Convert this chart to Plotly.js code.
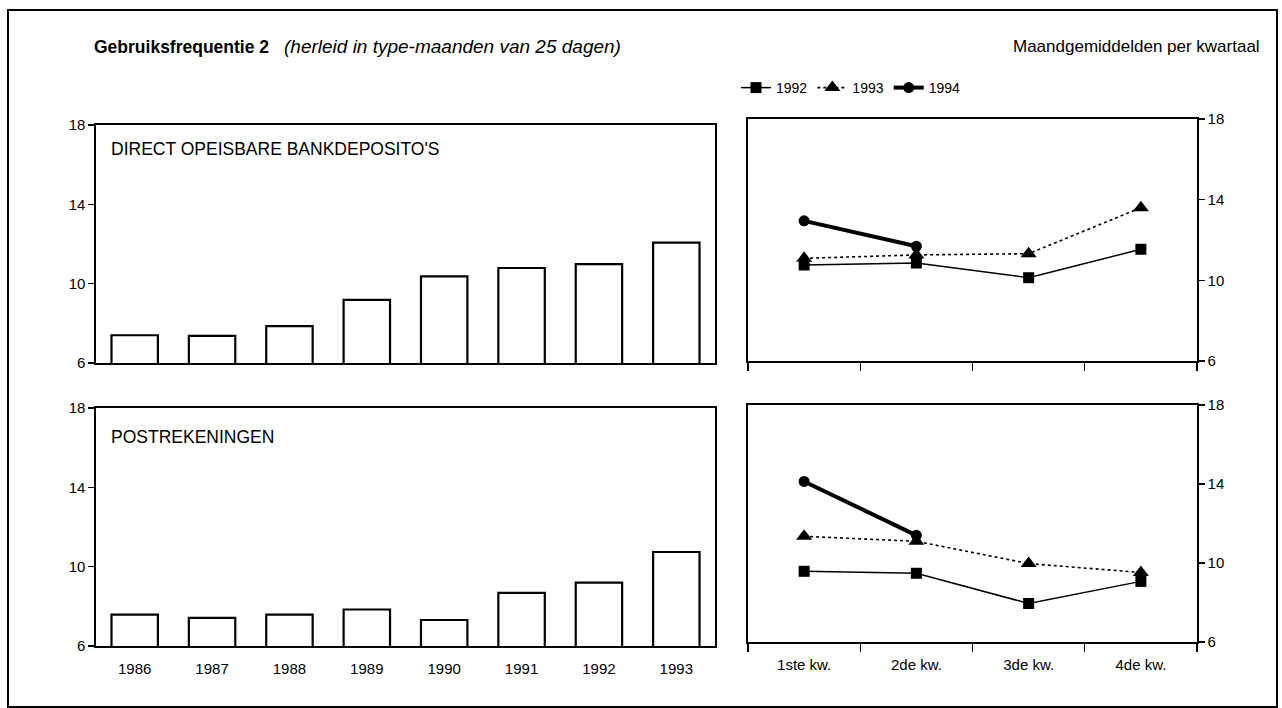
<!DOCTYPE html>
<html>
<head>
<meta charset="utf-8">
<script src="https://cdn.plot.ly/plotly-3.0.1.min.js"></script>
<style>
  html, body { margin: 0; padding: 0; background: #fff; }
  #chart { width: 1282px; height: 708px; }
</style>
</head>
<body>
<div id="chart"></div>
<script>
// ---- data ----
const years = ['1986', '1987', '1988', '1989', '1990', '1991', '1992', '1993'];
const bankdepositos = [7.4, 7.37, 7.86, 9.18, 10.37, 10.79, 10.99, 12.07];
const postrekeningen = [7.58, 7.42, 7.58, 7.84, 7.31, 8.68, 9.2, 10.74];

const quarters = ['1ste kw.', '2de kw.', '3de kw.', '4de kw.'];
const bank1992 = [10.76, 10.86, 10.13, 11.54];
const bank1993 = [11.09, 11.26, 11.32, 13.6];
const bank1994 = [12.95, 11.69];
const post1992 = [9.58, 9.48, 7.95, 9.07];
const post1993 = [11.35, 11.1, 9.97, 9.52];
const post1994 = [14.13, 11.4];

const yTicks = [6, 10, 14, 18];

// ---- layout helpers ----
const W = 1282, H = 708;
const fx = px => px / W;
const fy = py => 1 - py / H;
const FONT = 'Liberation Sans, Arial, Helvetica, sans-serif';

const barStyle = { color: '#ffffff', line: { color: '#000000', width: 2.2 } };

const s1992 = { line: { color: '#000', width: 1.5, dash: 'solid' }, marker: { symbol: 'square', size: 11, color: '#000' } };
const s1993 = { line: { color: '#000', width: 1.6, dash: 'dot' }, marker: { symbol: 'triangle-up', size: 14, color: '#000' } };
const s1994 = { line: { color: '#000', width: 4, dash: 'solid' }, marker: { symbol: 'circle', size: 11, color: '#000' } };

const traces = [
  { type: 'bar', x: years, y: bankdepositos, xaxis: 'x', yaxis: 'y', marker: barStyle, width: 0.6, showlegend: false, hoverinfo: 'x+y' },
  { type: 'bar', x: years, y: postrekeningen, xaxis: 'x3', yaxis: 'y3', marker: barStyle, width: 0.6, showlegend: false, hoverinfo: 'x+y' },

  Object.assign({ type: 'scatter', mode: 'lines+markers', name: '1992', x: quarters, y: bank1992, xaxis: 'x2', yaxis: 'y2', legendgroup: 'a' }, s1992),
  Object.assign({ type: 'scatter', mode: 'lines+markers', name: '1993', x: quarters, y: bank1993, xaxis: 'x2', yaxis: 'y2', legendgroup: 'b' }, s1993),
  Object.assign({ type: 'scatter', mode: 'lines+markers', name: '1994', x: quarters.slice(0, bank1994.length), y: bank1994, xaxis: 'x2', yaxis: 'y2', legendgroup: 'c' }, s1994),

  Object.assign({ type: 'scatter', mode: 'lines+markers', name: '1992', x: quarters, y: post1992, xaxis: 'x4', yaxis: 'y4', legendgroup: 'a', showlegend: false }, s1992),
  Object.assign({ type: 'scatter', mode: 'lines+markers', name: '1993', x: quarters, y: post1993, xaxis: 'x4', yaxis: 'y4', legendgroup: 'b', showlegend: false }, s1993),
  Object.assign({ type: 'scatter', mode: 'lines+markers', name: '1994', x: quarters.slice(0, post1994.length), y: post1994, xaxis: 'x4', yaxis: 'y4', legendgroup: 'c', showlegend: false }, s1994)
];

const axisBase = {
  showline: true, linecolor: '#000', linewidth: 1.6, mirror: true,
  showgrid: false, zeroline: false, fixedrange: true,
  tickfont: { family: FONT, size: 15, color: '#000' }
};

function yLeft(domain) {
  return Object.assign({}, axisBase, {
    domain: domain, range: [6, 18], tickvals: yTicks, ticktext: yTicks.map(String),
    ticks: 'outside', ticklen: 6, tickwidth: 1.3, tickcolor: '#000', side: 'left'
  });
}
function yRight(domain) {
  return Object.assign({}, axisBase, {
    domain: domain, range: [6, 18], tickvals: yTicks, ticktext: yTicks.map(String),
    ticks: 'outside', ticklen: 6, tickwidth: 1.3, tickcolor: '#000', side: 'right'
  });
}

const quarterAxis = {
  type: 'category', range: [-0.5, 3.5], ticks: 'outside', tickson: 'boundaries',
  ticklen: 8, tickwidth: 1.3, tickcolor: '#000'
};

const layout = {
  width: W, height: H, autosize: false,
  margin: { l: 0, r: 0, t: 0, b: 0, pad: 0 },
  paper_bgcolor: '#fff', plot_bgcolor: '#fff',
  font: { family: FONT, color: '#000' },
  title: {
    text: '<b>Gebruiksfrequentie 2</b>',
    x: fx(94), xanchor: 'left', y: fy(47), yanchor: 'middle',
    font: { family: FONT, size: 17.5, color: '#000' }
  },
  bargap: 0.4,
  showlegend: true,
  legend: {
    orientation: 'h', x: fx(736), xanchor: 'left', y: fy(88), yanchor: 'middle',
    font: { family: FONT, size: 14, color: '#000' }, itemwidth: 30,
    bgcolor: 'rgba(0,0,0,0)', tracegroupgap: 0
  },
  xaxis: Object.assign({}, axisBase, { domain: [fx(96), fx(715)], anchor: 'y', type: 'category', ticks: '', showticklabels: false }),
  yaxis: yLeft([fy(363), fy(125)]),
  xaxis3: Object.assign({}, axisBase, { domain: [fx(96), fx(715)], anchor: 'y3', type: 'category', ticks: '', showticklabels: true, ticklabelstandoff: 8 }),
  yaxis3: Object.assign(yLeft([fy(646), fy(408)]), { anchor: 'x3' }),
  xaxis2: Object.assign({}, axisBase, quarterAxis, { domain: [fx(748), fx(1197)], anchor: 'y2', showticklabels: false }),
  yaxis2: Object.assign(yRight([fy(361), fy(119)]), { anchor: 'x2' }),
  xaxis4: Object.assign({}, axisBase, quarterAxis, { domain: [fx(748), fx(1197)], anchor: 'y4', showticklabels: true, ticklabelstandoff: 8 }),
  yaxis4: Object.assign(yRight([fy(642), fy(405)]), { anchor: 'x4' }),
  annotations: [
    { xref: 'paper', yref: 'paper', x: fx(282), y: fy(47), xanchor: 'left', yanchor: 'middle', showarrow: false,
      text: '<i>(herleid in type-maanden van 25 dagen)</i>', font: { family: FONT, size: 19, color: '#000' } },
    { xref: 'paper', yref: 'paper', x: fx(1262), y: fy(46), xanchor: 'right', yanchor: 'middle', showarrow: false,
      text: 'Maandgemiddelden per kwartaal', font: { family: FONT, size: 17, color: '#000' } },
    { xref: 'paper', yref: 'paper', x: fx(109), y: fy(149), xanchor: 'left', yanchor: 'middle', showarrow: false,
      text: "DIRECT OPEISBARE BANKDEPOSITO'S", font: { family: FONT, size: 17.5, color: '#000' } },
    { xref: 'paper', yref: 'paper', x: fx(109), y: fy(437), xanchor: 'left', yanchor: 'middle', showarrow: false,
      text: 'POSTREKENINGEN', font: { family: FONT, size: 17.5, color: '#000' } }
  ],
  shapes: [
    { type: 'rect', xref: 'paper', yref: 'paper', x0: fx(8), x1: fx(1277), y0: fy(707), y1: fy(10),
      line: { color: '#000', width: 2 }, fillcolor: 'rgba(0,0,0,0)', layer: 'above' }
  ]
};

Plotly.newPlot('chart', traces, layout, { displayModeBar: false, staticPlot: true });
</script>
</body>
</html>
